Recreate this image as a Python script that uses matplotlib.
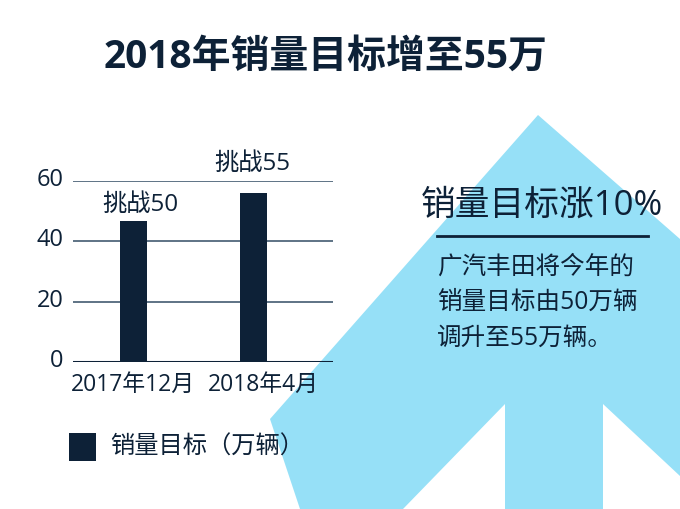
import matplotlib
matplotlib.use("Agg")
import matplotlib.pyplot as plt
import matplotlib.transforms as mtransforms
from matplotlib.patches import Polygon

plt.rcParams['font.family'] = ['Open Sans', 'Noto Sans CJK SC', 'DejaVu Sans']

# data
categories = ["2017年12月", "2018年4月"]
values = [46.7, 55.9]
bar_labels = ["挑战50", "挑战55"]
yticks = [0, 20, 40, 60]
legend_label = "销量目标（万辆）"
title = "2018年销量目标增至55万"
side_title = "销量目标涨10%"
side_lines = ["广汽丰田将今年的", "销量目标由50万辆", "调升至55万辆。"]

navy = "#0d2137"
sky = "#96e0f7"
grid_col = "#52687c"

W, H = 680, 510
fig = plt.figure(figsize=(6.8, 5.1), dpi=100)
fig.patch.set_facecolor("white")

# background arrow (decoration, figure pixel coords)
arrow_px = [(538, 116), (680, 240), (680, 477), (603, 405), (603, 510),
            (505, 510), (505, 405), (403, 510), (300, 510), (270, 420)]
arrow = Polygon([(x / W, 1 - y / H) for x, y in arrow_px], closed=True,
                transform=fig.transFigure, facecolor=sky, edgecolor="none", zorder=-5)
fig.patches.append(arrow)

# title
fig.text(326 / W, 1 - 57 / H, title, ha="center", va="center",
         fontsize=28, fontweight="bold", color=navy)

# bar chart
ax = fig.add_axes([73 / W, 1 - 363 / H, 260 / W, 181 / H])
ax.patch.set_alpha(0)
x = list(range(len(categories)))
ax.bar(x, values, width=0.225, color=navy, zorder=3)
ax.set_xlim(-0.504, 1.6625)
ax.set_ylim(0, 60)
ax.set_yticks(yticks)
ax.set_yticklabels([str(v) for v in yticks], fontsize=17, color=navy)
ax.set_xticks(x)
ax.set_xticklabels(categories, fontsize=16.5, color=navy)
ax.tick_params(length=0, pad=7)
ax.tick_params(axis="x", pad=7)
for s in ax.spines.values():
    s.set_visible(False)
for v in yticks[1:]:
    ax.axhline(v, color=grid_col, lw=1.3, zorder=1)
ax.axhline(0, color=navy, lw=2.2, zorder=4)

# nudge tick labels like the original layout
up = mtransforms.ScaledTranslation(0, 5 / 100, fig.dpi_scale_trans)
for lab in ax.get_yticklabels():
    lab.set_transform(lab.get_transform() + up)
xl = ax.get_xticklabels()
xl[0].set_transform(xl[0].get_transform() + mtransforms.ScaledTranslation(-1 / 100, 0, fig.dpi_scale_trans))
xl[1].set_transform(xl[1].get_transform() + mtransforms.ScaledTranslation(10 / 100, 0, fig.dpi_scale_trans))

offsets = [(5, 4), (-1, 13)]
for xi, v, lab, off in zip(x, values, bar_labels, offsets):
    ax.annotate(lab, (xi, v), xytext=off, textcoords="offset points",
                ha="center", va="bottom", fontsize=17.5, color=navy)

# legend
fig.patches.append(plt.Rectangle((69 / W, 1 - 462 / H), 27 / W, 28 / H,
                                 transform=fig.transFigure, facecolor=navy,
                                 edgecolor="none"))
fig.text(110 / W, 1 - 448 / H, legend_label, ha="left", va="center",
         fontsize=17.5, color=navy)

# side note
fig.text(542 / W, 1 - 206 / H, side_title, ha="center", va="center",
         fontsize=25, color=navy)
fig.add_artist(plt.Line2D([437 / W, 648 / W], [1 - 237 / H, 1 - 237 / H],
                          transform=fig.transFigure, color=navy, lw=2))
for i, line in enumerate(side_lines):
    fig.text(437 / W, 1 - (267 + 35.5 * i) / H, line, ha="left", va="center",
             fontsize=17.7, color=navy)

fig.savefig("out.png", dpi=100)
